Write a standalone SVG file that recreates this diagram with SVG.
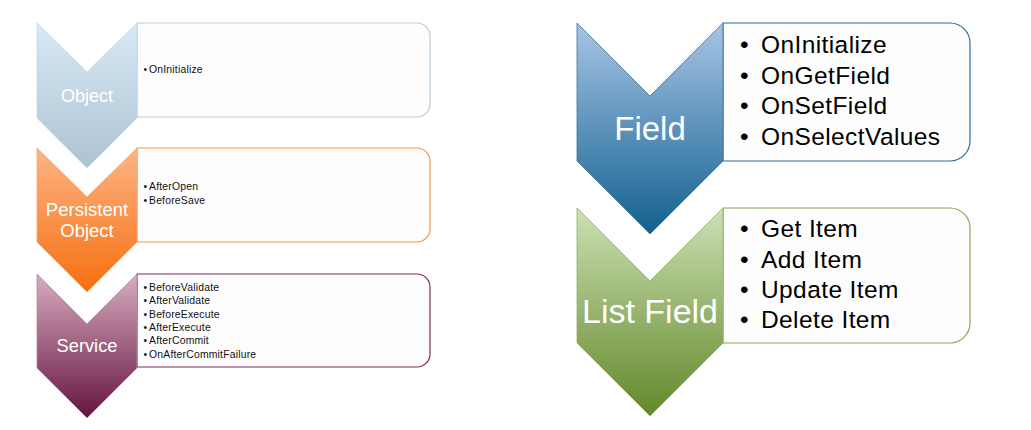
<svg xmlns="http://www.w3.org/2000/svg" width="1031" height="430" viewBox="0 0 1031 430">
  <defs>
    <linearGradient id="gObject" x1="0" y1="0" x2="0" y2="1">
      <stop offset="0" stop-color="#d8e9f6"/>
      <stop offset="1" stop-color="#adc2d1"/>
    </linearGradient>
    <linearGradient id="gPersist" x1="0" y1="0" x2="0" y2="1">
      <stop offset="0" stop-color="#fcb486"/>
      <stop offset="1" stop-color="#f66f0e"/>
    </linearGradient>
    <linearGradient id="gService" x1="0" y1="0" x2="0" y2="1">
      <stop offset="0" stop-color="#d6adc0"/>
      <stop offset="1" stop-color="#66143f"/>
    </linearGradient>
    <linearGradient id="gField" x1="0" y1="0" x2="0" y2="1">
      <stop offset="0" stop-color="#a7c5e6"/>
      <stop offset="1" stop-color="#11608e"/>
    </linearGradient>
    <linearGradient id="gList" x1="0" y1="0" x2="0" y2="1">
      <stop offset="0" stop-color="#cde0b4"/>
      <stop offset="1" stop-color="#62882a"/>
    </linearGradient>
  </defs>
  <style>
    .box { fill: #fdfdfd; stroke-width: 1.2; }
    .chev { stroke-width: 0.8; }
    .label { font-family: "Liberation Sans", Arial, sans-serif; fill: #ffffff; text-anchor: middle; }
    .small { font-family: "Liberation Sans", Arial, sans-serif; font-size: 10.4px; letter-spacing: 0.2px; fill: #111111; }
    .big { font-family: "Liberation Sans", Arial, sans-serif; font-size: 24.5px; letter-spacing: 0.4px; fill: #000000; }
  </style>
  <rect width="1031" height="430" fill="#ffffff"/>

  <g id="object">
    <path class="box" stroke="#b9cddd" d="M137,23 H417 A13,13 0 0 1 430,36 V104 A13,13 0 0 1 417,117 H137 Z"/>
    <path class="chev" fill="url(#gObject)" stroke="#c4d6e3" d="M37,23 L87,72 L137,23 L137,118 L87,168 L37,118 Z"/>
    <text class="label" x="87" y="102" font-size="18px">Object</text>
    <text class="small" x="143.5" y="73">•</text><text class="small" x="149" y="73">OnInitialize</text>
  </g>

  <g id="persistent-object">
    <path class="box" stroke="#f79646" d="M137,148 H417 A13,13 0 0 1 430,161 V229 A13,13 0 0 1 417,242 H137 Z"/>
    <path class="chev" fill="url(#gPersist)" stroke="#f9a46c" d="M37,148 L87,197 L137,148 L137,242 L87,292 L37,242 Z"/>
    <text class="label" x="87" y="216" font-size="18.5px">Persistent</text>
    <text class="label" x="87" y="237" font-size="18.5px">Object</text>
    <text class="small" x="143.5" y="190">•</text><text class="small" x="149" y="190">AfterOpen</text>
    <text class="small" x="143.5" y="204">•</text><text class="small" x="149" y="204">BeforeSave</text>
  </g>

  <g id="service">
    <path class="box" stroke="#7a2d5a" d="M137,274 H417 A13,13 0 0 1 430,287 V354 A13,13 0 0 1 417,367 H137 Z"/>
    <path class="chev" fill="url(#gService)" stroke="#b68aa2" d="M37,274 L87,324 L137,274 L137,368 L87,418 L37,368 Z"/>
    <text class="label" x="87" y="352" font-size="18.3px">Service</text>
    <text class="small" x="143.5" y="291">•</text><text class="small" x="149" y="291">BeforeValidate</text>
    <text class="small" x="143.5" y="304.3">•</text><text class="small" x="149" y="304.3">AfterValidate</text>
    <text class="small" x="143.5" y="317.6">•</text><text class="small" x="149" y="317.6">BeforeExecute</text>
    <text class="small" x="143.5" y="330.9">•</text><text class="small" x="149" y="330.9">AfterExecute</text>
    <text class="small" x="143.5" y="344.2">•</text><text class="small" x="149" y="344.2">AfterCommit</text>
    <text class="small" x="143.5" y="357.5">•</text><text class="small" x="149" y="357.5">OnAfterCommitFailure</text>
  </g>

  <g id="field">
    <path class="box" stroke="#2d6e99" d="M723,23 H950 A20,20 0 0 1 970,43 V141 A20,20 0 0 1 950,161 H723 Z"/>
    <path class="chev" fill="url(#gField)" stroke="#3c739a" d="M577,23 L650,96 L723,23 L723,161 L650,234 L577,161 Z"/>
    <text class="label" x="650" y="140" font-size="33px">Field</text>
    <text class="big" x="740" y="53">•</text><text class="big" x="761" y="53">OnInitialize</text>
    <text class="big" x="740" y="84">•</text><text class="big" x="761" y="84">OnGetField</text>
    <text class="big" x="740" y="114">•</text><text class="big" x="761" y="114">OnSetField</text>
    <text class="big" x="740" y="145">•</text><text class="big" x="761" y="145">OnSelectValues</text>
  </g>

  <g id="list-field">
    <path class="box" stroke="#8ea35c" d="M723,208 H950 A20,20 0 0 1 970,228 V323 A20,20 0 0 1 950,343 H723 Z"/>
    <path class="chev" fill="url(#gList)" stroke="#92ad6a" d="M577,208 L650,281 L723,208 L723,343 L650,416 L577,343 Z"/>
    <text class="label" x="650" y="323" font-size="34px">List Field</text>
    <text class="big" x="740" y="237">•</text><text class="big" x="761" y="237">Get Item</text>
    <text class="big" x="740" y="268">•</text><text class="big" x="761" y="268">Add Item</text>
    <text class="big" x="740" y="298">•</text><text class="big" x="761" y="298">Update Item</text>
    <text class="big" x="740" y="328">•</text><text class="big" x="761" y="328">Delete Item</text>
  </g>

  <g id="connectors"/>
</svg>
